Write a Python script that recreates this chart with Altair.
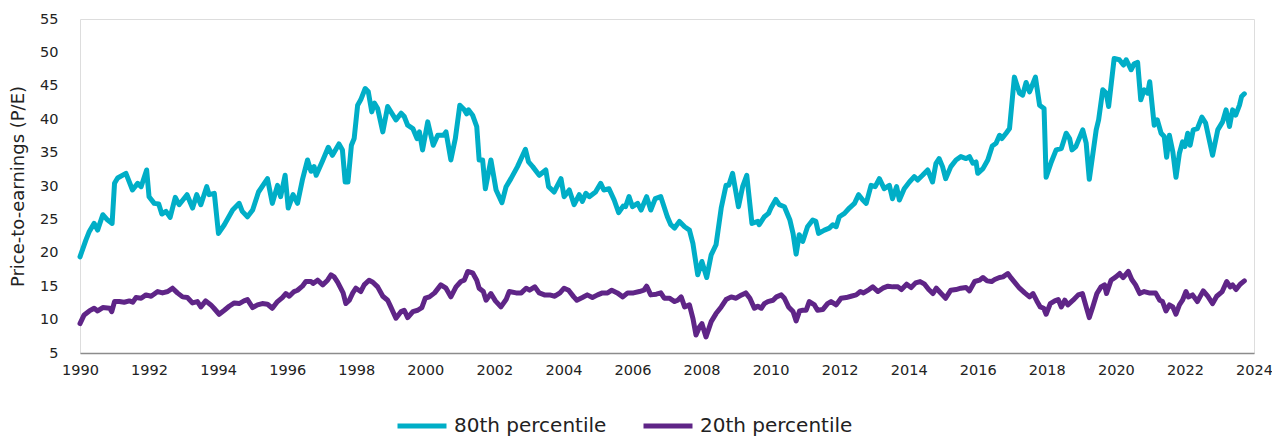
import altair as alt
import pandas as pd

# 80th percentile series (decimal year, P/E)
p80_years = [
    1990.00, 1990.17, 1990.27, 1990.41, 1990.51, 1990.66, 1990.80, 1990.93, 1991.00, 1991.09,
    1991.33, 1991.52, 1991.67, 1991.77, 1991.93, 1992.00, 1992.15, 1992.28, 1992.37, 1992.49,
    1992.61, 1992.76, 1992.87, 1993.10, 1993.26, 1993.38, 1993.50, 1993.67, 1993.74, 1993.89,
    1994.01, 1994.18, 1994.42, 1994.61, 1994.70, 1994.85, 1995.00, 1995.17, 1995.43, 1995.57,
    1995.72, 1995.81, 1995.94, 1996.03, 1996.17, 1996.30, 1996.44, 1996.59, 1996.69, 1996.78,
    1996.84, 1997.02, 1997.19, 1997.31, 1997.50, 1997.60, 1997.68, 1997.76, 1997.86, 1997.94,
    1998.04, 1998.13, 1998.26, 1998.35, 1998.45, 1998.53, 1998.62, 1998.77, 1998.91, 1999.15,
    1999.30, 1999.39, 1999.49, 1999.64, 1999.76, 1999.83, 1999.92, 2000.07, 2000.23, 2000.36,
    2000.53, 2000.60, 2000.74, 2000.87, 2001.00, 2001.13, 2001.20, 2001.25, 2001.37, 2001.49,
    2001.56, 2001.66, 2001.74, 2001.90, 2002.05, 2002.22, 2002.34, 2002.48, 2002.67, 2002.90,
    2002.99, 2003.11, 2003.30, 2003.49, 2003.57, 2003.73, 2003.93, 2004.02, 2004.17, 2004.31,
    2004.46, 2004.55, 2004.65, 2004.75, 2004.93, 2005.08, 2005.17, 2005.32, 2005.47, 2005.60,
    2005.73, 2005.80, 2005.90, 2006.00, 2006.15, 2006.25, 2006.41, 2006.53, 2006.66, 2006.82,
    2007.01, 2007.11, 2007.22, 2007.36, 2007.51, 2007.65, 2007.75, 2007.89, 2008.01, 2008.15,
    2008.28, 2008.42, 2008.57, 2008.71, 2008.79, 2008.90, 2009.07, 2009.19, 2009.31, 2009.46,
    2009.63, 2009.67, 2009.82, 2009.94, 2010.01, 2010.15, 2010.25, 2010.40, 2010.56, 2010.65,
    2010.74, 2010.83, 2010.93, 2011.07, 2011.22, 2011.31, 2011.39, 2011.56, 2011.70, 2011.80,
    2011.90, 2011.99, 2012.14, 2012.28, 2012.43, 2012.55, 2012.67, 2012.77, 2012.91, 2013.03,
    2013.15, 2013.29, 2013.44, 2013.53, 2013.65, 2013.73, 2013.87, 2014.02, 2014.16, 2014.26,
    2014.40, 2014.55, 2014.69, 2014.79, 2014.88, 2014.98, 2015.07, 2015.22, 2015.37, 2015.51,
    2015.66, 2015.76, 2015.86, 2015.95, 2016.00, 2016.15, 2016.29, 2016.42, 2016.53, 2016.63,
    2016.70, 2016.82, 2016.92, 2017.06, 2017.21, 2017.30, 2017.40, 2017.50, 2017.67, 2017.79,
    2017.92, 2017.98, 2018.13, 2018.27, 2018.42, 2018.56, 2018.66, 2018.73, 2018.84, 2019.04,
    2019.14, 2019.23, 2019.43, 2019.50, 2019.62, 2019.72, 2019.79, 2019.95, 2020.10, 2020.22,
    2020.30, 2020.44, 2020.53, 2020.63, 2020.72, 2020.82, 2020.92, 2020.98, 2021.11, 2021.20,
    2021.31, 2021.40, 2021.47, 2021.55, 2021.65, 2021.74, 2021.84, 2021.93, 2022.00, 2022.08,
    2022.15, 2022.24, 2022.36, 2022.49, 2022.60, 2022.80, 2022.95, 2023.09, 2023.19, 2023.29,
    2023.38, 2023.47, 2023.58, 2023.64, 2023.72,
]
p80_values = [
    19.4, 21.9, 23.2, 24.4, 23.4, 25.7, 24.9, 24.4, 30.4, 31.2,
    31.9, 29.4, 30.4, 29.9, 32.4, 28.4, 27.4, 27.3, 25.8, 26.2,
    25.3, 28.3, 27.2, 28.7, 26.7, 28.7, 27.2, 29.9, 28.7, 28.9,
    22.9, 24.2, 26.4, 27.4, 26.2, 25.4, 26.4, 29.1, 31.1, 27.4,
    30.1, 28.4, 31.6, 26.7, 28.7, 27.4, 30.9, 33.9, 32.2, 32.9,
    31.6, 33.7, 35.8, 34.6, 36.3, 35.4, 30.6, 30.6, 36.1, 37.1,
    42.1, 42.9, 44.6, 44.1, 41.1, 42.4, 41.6, 38.1, 41.9, 39.9,
    40.9, 40.4, 39.1, 38.6, 37.1, 38.1, 35.4, 39.6, 36.1, 37.6,
    37.6, 38.1, 33.9, 37.1, 42.1, 41.4, 40.8, 41.4, 40.6, 38.9,
    33.9, 33.9, 29.6, 33.9, 29.4, 27.5, 29.9, 31.1, 32.9, 35.5,
    33.6, 32.9, 31.6, 32.4, 29.9, 29.1, 31.1, 28.4, 29.4, 27.2,
    28.7, 27.7, 28.9, 28.4, 29.1, 30.4, 29.4, 29.6, 27.9, 26.0,
    27.0, 26.9, 28.4, 26.9, 27.4, 26.4, 28.4, 26.4, 28.1, 28.4,
    25.4, 24.2, 23.7, 24.7, 23.9, 23.4, 21.4, 16.7, 18.7, 16.3,
    19.7, 21.2, 26.7, 30.1, 30.1, 31.9, 26.9, 29.9, 31.6, 24.4,
    24.7, 24.2, 25.4, 25.9, 26.7, 28.0, 27.2, 26.9, 24.9, 22.9,
    19.8, 22.7, 21.7, 23.9, 24.9, 24.7, 22.9, 23.4, 23.7, 24.2,
    23.9, 25.4, 25.9, 26.7, 27.4, 28.7, 27.9, 27.4, 30.1, 29.9,
    31.1, 29.6, 30.1, 28.1, 29.9, 27.9, 29.6, 30.6, 31.4, 30.9,
    31.6, 32.4, 30.6, 33.4, 34.1, 32.9, 31.1, 32.9, 33.9, 34.4,
    34.1, 34.4, 33.4, 33.6, 31.9, 32.6, 33.9, 36.0, 36.4, 37.6,
    37.1, 37.9, 38.6, 46.3, 43.9, 43.6, 45.5, 44.1, 46.3, 42.1,
    41.6, 31.3, 33.6, 35.4, 35.6, 37.9, 37.1, 35.4, 35.9, 38.4,
    36.4, 31.0, 38.4, 39.9, 44.4, 43.9, 41.9, 49.1, 48.9, 48.1,
    48.9, 47.4, 48.3, 48.5, 42.9, 44.4, 43.9, 45.6, 39.1, 39.9,
    37.9, 37.4, 34.3, 37.6, 35.1, 31.3, 34.9, 36.6, 35.9, 37.9,
    36.1, 38.4, 38.6, 40.3, 39.4, 34.6, 38.4, 39.6, 41.4, 38.9,
    41.4, 40.6, 42.1, 43.4, 43.8,
]

# 20th percentile series (decimal year, P/E)
p20_years = [
    1990.00, 1990.12, 1990.27, 1990.41, 1990.51, 1990.66, 1990.86, 1990.92, 1991.00, 1991.14,
    1991.28, 1991.43, 1991.53, 1991.62, 1991.77, 1991.91, 1992.06, 1992.25, 1992.39, 1992.54,
    1992.68, 1992.82, 1992.97, 1993.11, 1993.26, 1993.40, 1993.50, 1993.64, 1993.79, 1993.88,
    1994.03, 1994.18, 1994.32, 1994.47, 1994.61, 1994.75, 1994.85, 1995.00, 1995.14, 1995.28,
    1995.43, 1995.57, 1995.72, 1995.86, 1995.96, 1996.06, 1996.20, 1996.30, 1996.44, 1996.54,
    1996.69, 1996.75, 1996.88, 1997.03, 1997.17, 1997.27, 1997.36, 1997.46, 1997.55, 1997.62,
    1997.70, 1997.80, 1997.90, 1997.99, 1998.13, 1998.23, 1998.37, 1998.48, 1998.62, 1998.77,
    1998.91, 1999.00, 1999.15, 1999.30, 1999.39, 1999.49, 1999.64, 1999.78, 1999.90, 2000.00,
    2000.12, 2000.27, 2000.45, 2000.60, 2000.74, 2000.89, 2001.03, 2001.13, 2001.23, 2001.37,
    2001.49, 2001.56, 2001.68, 2001.76, 2001.90, 2002.03, 2002.19, 2002.34, 2002.43, 2002.63,
    2002.78, 2002.92, 2003.02, 2003.17, 2003.30, 2003.45, 2003.60, 2003.75, 2003.90, 2004.02,
    2004.15, 2004.30, 2004.39, 2004.55, 2004.69, 2004.84, 2004.99, 2005.13, 2005.28, 2005.40,
    2005.56, 2005.72, 2005.86, 2006.03, 2006.20, 2006.33, 2006.41, 2006.53, 2006.69, 2006.82,
    2006.92, 2007.07, 2007.22, 2007.31, 2007.41, 2007.51, 2007.65, 2007.75, 2007.84, 2007.94,
    2008.01, 2008.13, 2008.28, 2008.42, 2008.57, 2008.71, 2008.86, 2009.00, 2009.16, 2009.28,
    2009.40, 2009.53, 2009.63, 2009.73, 2009.82, 2009.92, 2010.07, 2010.17, 2010.31, 2010.40,
    2010.52, 2010.65, 2010.74, 2010.84, 2010.93, 2011.03, 2011.12, 2011.27, 2011.36, 2011.51,
    2011.65, 2011.75, 2011.90, 2012.04, 2012.19, 2012.33, 2012.48, 2012.60, 2012.69, 2012.85,
    2012.96, 2013.11, 2013.25, 2013.40, 2013.54, 2013.69, 2013.79, 2013.94, 2014.07, 2014.20,
    2014.33, 2014.46, 2014.58, 2014.70, 2014.80, 2014.94, 2015.07, 2015.22, 2015.37, 2015.51,
    2015.66, 2015.76, 2015.91, 2016.05, 2016.15, 2016.27, 2016.40, 2016.49, 2016.63, 2016.73,
    2016.87, 2016.97, 2017.10, 2017.21, 2017.36, 2017.50, 2017.60, 2017.71, 2017.81, 2017.91,
    2017.98, 2018.10, 2018.23, 2018.33, 2018.42, 2018.52, 2018.61, 2018.76, 2018.91, 2019.03,
    2019.14, 2019.23, 2019.33, 2019.45, 2019.57, 2019.67, 2019.73, 2019.86, 2020.00, 2020.11,
    2020.21, 2020.36, 2020.46, 2020.57, 2020.69, 2020.82, 2020.96, 2021.15, 2021.27, 2021.35,
    2021.45, 2021.55, 2021.65, 2021.74, 2021.84, 2021.93, 2022.03, 2022.10, 2022.22, 2022.36,
    2022.53, 2022.66, 2022.80, 2022.92, 2023.08, 2023.21, 2023.31, 2023.38, 2023.48, 2023.60,
    2023.72,
]
p20_values = [
    9.4, 10.7, 11.3, 11.7, 11.3, 11.8, 11.7, 11.2, 12.7, 12.7,
    12.6, 12.8, 12.6, 13.3, 13.2, 13.7, 13.5, 14.2, 14.0, 14.2,
    14.7, 14.0, 13.4, 13.3, 12.5, 12.7, 11.9, 12.8, 12.2, 11.7,
    10.8, 11.4, 12.0, 12.5, 12.4, 12.8, 13.0, 11.8, 12.2, 12.4,
    12.3, 11.7, 12.7, 13.3, 13.9, 13.5, 14.2, 14.4, 15.0, 15.7,
    15.7, 15.4, 15.9, 15.2, 15.9, 16.7, 16.4, 15.6, 14.7, 14.0,
    12.4, 12.9, 14.0, 14.7, 14.2, 15.2, 15.9, 15.6, 14.9, 13.5,
    12.9, 11.9, 10.2, 11.2, 11.4, 10.3, 11.2, 11.4, 11.8, 13.2,
    13.4, 14.0, 15.2, 14.7, 13.4, 14.9, 15.7, 15.9, 17.2, 17.0,
    15.9, 14.7, 14.2, 12.9, 13.9, 12.8, 11.9, 13.0, 14.2, 14.0,
    14.0, 14.7, 14.4, 14.9, 14.0, 13.7, 13.7, 13.5, 14.0, 14.7,
    14.4, 13.4, 12.9, 13.3, 13.7, 13.3, 13.7, 14.0, 14.0, 14.4,
    14.0, 13.4, 14.0, 14.0, 14.2, 14.4, 15.0, 13.7, 13.8, 14.0,
    13.2, 13.2, 12.7, 12.9, 13.4, 11.9, 12.2, 10.2, 7.7, 8.9,
    9.4, 7.4, 9.7, 10.9, 11.9, 13.0, 13.4, 13.2, 13.7, 14.0,
    13.2, 11.7, 12.0, 11.7, 12.4, 12.7, 12.9, 13.4, 13.7, 13.2,
    11.9, 11.2, 9.8, 11.3, 11.4, 11.4, 12.7, 12.2, 11.4, 11.5,
    12.4, 12.7, 12.2, 13.2, 13.3, 13.5, 13.7, 14.2, 14.0, 14.5,
    14.9, 14.2, 14.7, 15.0, 14.9, 14.9, 14.5, 15.3, 14.8, 15.5,
    15.7, 15.3, 14.5, 13.9, 14.7, 13.9, 13.2, 14.4, 14.5, 14.7,
    14.8, 14.3, 15.7, 15.9, 16.3, 15.8, 15.7, 16.0, 16.3, 16.4,
    16.9, 16.2, 15.4, 14.7, 14.0, 13.4, 13.9, 12.8, 11.9, 11.7,
    10.8, 12.4, 12.8, 13.0, 11.9, 12.9, 12.2, 12.9, 13.7, 13.9,
    11.9, 10.3, 11.9, 13.9, 14.9, 15.2, 13.9, 15.9, 16.4, 16.9,
    16.3, 17.2, 16.0, 15.2, 13.9, 14.2, 14.0, 14.0, 12.9, 12.7,
    11.3, 12.2, 11.9, 10.8, 12.2, 12.9, 14.2, 13.4, 13.7, 12.7,
    14.3, 13.5, 12.4, 13.5, 14.2, 15.7, 14.9, 15.2, 14.5, 15.3,
    15.8,
]

series_names = ["80th percentile", "20th percentile"]
series_colors = ["#00AEC7", "#5F2587"]
x_ticks = list(range(1990, 2025, 2))
y_ticks = list(range(5, 60, 5))

df = pd.concat([
    pd.DataFrame({"year": p80_years, "pe": p80_values, "series": series_names[0], "order": range(len(p80_years))}),
    pd.DataFrame({"year": p20_years, "pe": p20_values, "series": series_names[1], "order": range(len(p20_years))}),
])

FONT = "DejaVu Sans"

chart = alt.Chart(df).mark_line(strokeWidth=5, strokeJoin="round", strokeCap="round").encode(
    x=alt.X("year:Q",
            scale=alt.Scale(domain=[1990, 2024], nice=False, zero=False),
            axis=alt.Axis(values=x_ticks, format="d", title=None, grid=False, ticks=False,
                          domainColor="#8c8c8c", domainWidth=1.5, labelPadding=10,
                          labelFlush=False, labelOverlap=False,
                          labelFontSize=14.5, labelColor="#222222", labelFont=FONT)),
    y=alt.Y("pe:Q",
            scale=alt.Scale(domain=[5, 55], nice=False, zero=False),
            axis=alt.Axis(values=y_ticks, title="Price-to-earnings (P/E)", grid=False, ticks=False,
                          domain=False, labelPadding=22, labelFontSize=14.5, labelColor="#222222",
                          labelFont=FONT, titleFont=FONT, titleFontSize=18, titleFontWeight="normal",
                          titleColor="#222222", titleX=-62, titleY=167, titleAlign="center",
                          titleBaseline="middle", titleAngle=270)),
    color=alt.Color("series:N",
                    scale=alt.Scale(domain=series_names, range=series_colors),
                    sort=series_names,
                    legend=alt.Legend(title=None, orient="none", direction="horizontal",
                                      legendX=315, legendY=380, symbolType="stroke",
                                      symbolSize=2400, symbolStrokeWidth=5, labelOffset=5,
                                      labelFontSize=20, labelFont=FONT, labelColor="#222222",
                                      columnPadding=26, padding=0, labelLimit=400)),
    order="order:Q",
    detail="series:N",
).properties(
    width=1174,
    height=334,
    padding={"left": 72, "top": 11, "right": 18, "bottom": 84},
    autosize=alt.AutoSizeParams(type="none"),
).configure_view(stroke=None).configure(background="white")

chart.save("out.html", embed_options={"renderer": "svg", "actions": False})
